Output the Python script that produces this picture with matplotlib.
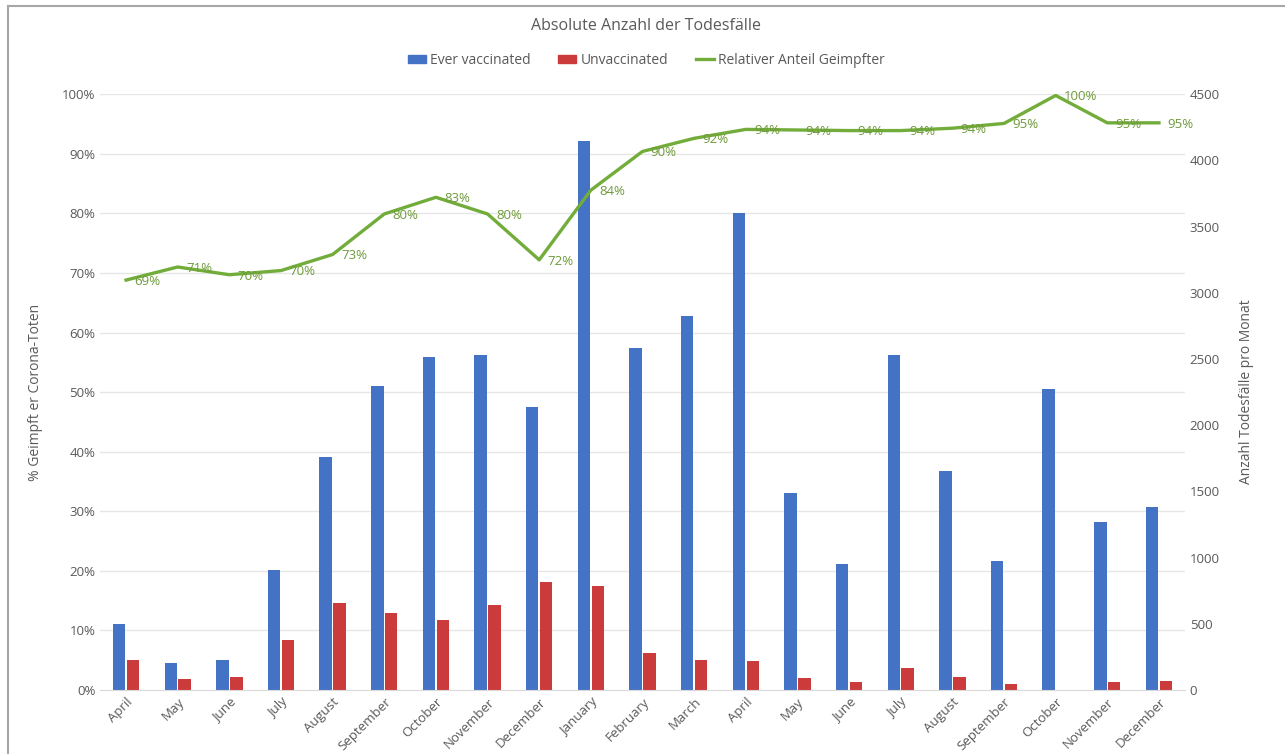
import matplotlib.pyplot as plt
import numpy as np
from matplotlib.lines import Line2D
from matplotlib.patches import Patch

months = ['April', 'May', 'June', 'July', 'August', 'September', 'October',
          'November', 'December', 'January', 'February', 'March', 'April',
          'May', 'June', 'July', 'August', 'September', 'October',
          'November', 'December']
vaccinated = [498, 201, 227, 906, 1757, 2298, 2512, 2530, 2139, 4145, 2582,
              2827, 3601, 1485, 951, 2532, 1651, 972, 2273, 1271, 1379]
unvaccinated = [227, 83, 96, 378, 654, 579, 529, 642, 818, 788, 277,
                227, 221, 91, 63, 166, 96, 45, 0, 63, 65]
share = [68.8, 71.0, 69.7, 70.4, 73.1, 79.9, 82.7, 79.9, 72.2, 83.9, 90.4,
         92.6, 94.1, 94.0, 93.9, 93.9, 94.3, 95.1, 99.8, 95.2, 95.2]
share_labels = ['69%', '71%', '70%', '70%', '73%', '80%', '83%', '80%', '72%',
                '84%', '90%', '92%', '94%', '94%', '94%', '94%', '94%', '95%',
                '100%', '95%', '95%']

blue = '#4472C4'
red = '#CC3B3B'
green = '#72AC3A'
grey = '#595959'

plt.rcParams['font.family'] = ['Open Sans', 'DejaVu Sans']

fig = plt.figure(figsize=(12.85, 7.54), dpi=100)
ax = fig.add_axes([0.078, 0.085, 0.844, 0.79])
ax2 = ax.twinx()

x = np.arange(len(months))
w = 0.24
ax2.bar(x - 0.135, vaccinated, w, color=blue, zorder=2)
ax2.bar(x + 0.135, unvaccinated, w, color=red, zorder=2)
ax2.set_ylim(0, 4500)
ax2.set_yticks(np.arange(0, 4501, 500))
# gridlines follow the left (percent) axis but sit behind the bars
for g in np.arange(10, 101, 10):
    ax2.axhline(g * 45, color='#E6E6E6', lw=1, zorder=0)

ax.set_zorder(ax2.get_zorder() + 1)
ax.patch.set_visible(False)
ax.plot(x, share, color=green, lw=2.4, zorder=3)
for xi, yi, lab in zip(x, share, share_labels):
    ax.annotate(lab, (xi, yi), xytext=(6, -1), textcoords='offset points',
                ha='left', va='center', color='#6E9A3A', fontsize=9.5)

ax.set_ylim(0, 100)
ax.set_yticks(np.arange(0, 101, 10))
ax.set_yticklabels([f'{v}%' for v in range(0, 101, 10)])
ax.set_xlim(-0.5, len(months) - 0.5)
ax.set_xticks(x)
ax.set_xticklabels(months, rotation=45, ha='right', rotation_mode='anchor',
                   fontsize=6.5, color=grey)

for a in (ax, ax2):
    for s in a.spines.values():
        s.set_visible(False)
    a.tick_params(length=0, colors=grey, labelsize=9.5)
ax.tick_params(axis='x', pad=4)
ax2.spines['bottom'].set_visible(True)
ax2.spines['bottom'].set_color('#D9D9D9')

ax.set_ylabel('% Geimpft er Corona-Toten', color=grey, fontsize=10, labelpad=14)
ax2.set_ylabel('Anzahl Todesfälle pro Monat', color=grey, fontsize=10, labelpad=14)

fig.text(0.503, 0.966, 'Absolute Anzahl der Todesfälle', ha='center', va='center',
         fontsize=11.5, color=grey)

handles = [Patch(color=blue), Patch(color=red), Line2D([], [], color=green, lw=2.4)]
fig.legend(handles, ['Ever vaccinated', 'Unvaccinated', 'Relativer Anteil Geimpfter'],
           loc='center', bbox_to_anchor=(0.503, 0.92), ncol=3, frameon=False,
           fontsize=10, labelcolor=grey, handlelength=1.3, handleheight=0.6,
           columnspacing=2.0, handletextpad=0.3)

fig.add_artist(Line2D([0.006, 0.006], [0, 0.992], color='#A6A6A6', lw=1.5,
                      transform=fig.transFigure))
fig.add_artist(Line2D([0.006, 1], [0.992, 0.992], color='#A6A6A6', lw=1.5,
                      transform=fig.transFigure))

fig.savefig('out.png', dpi=100)
